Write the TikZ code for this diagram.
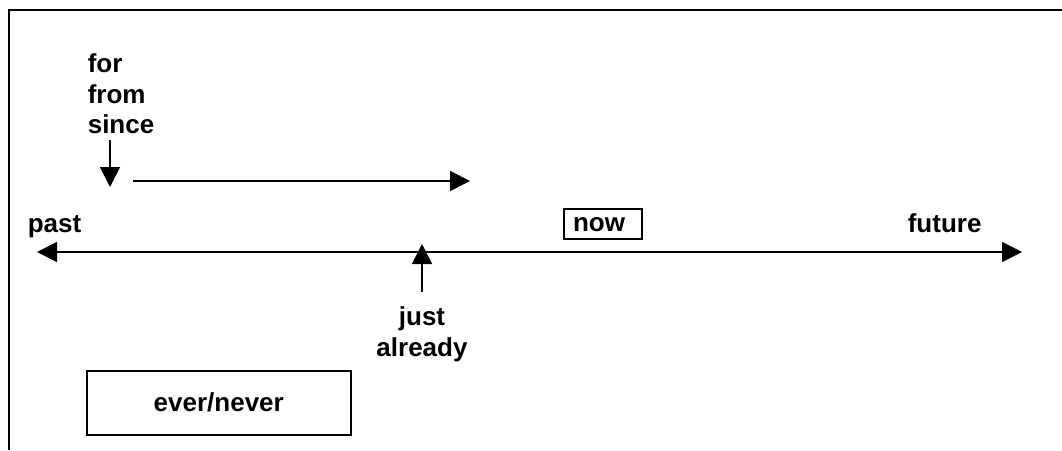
\documentclass[tikz,border=0pt]{standalone}
\usepackage{fontspec}
\setmainfont{Liberation Sans}
\usetikzlibrary{arrows.meta,positioning}

\begin{document}
\begin{tikzpicture}[x=1pt,y=-1pt,line width=1.6pt,
  every node/.style={font=\bfseries\fontsize{26}{30.5}\selectfont,inner sep=0pt},
  tip/.style={-{Triangle[length=20pt,width=20pt]}},
  box/.style={draw,line width=1.5pt}]
  \useasboundingbox (0,0) rectangle (1062,450);
  \draw [line width=2pt] (9,450) -- (9,10) -- (1062,10);

  % time line
  \coordinate (pastend) at (37,252); \coordinate (futureend) at (1022,252);
  \draw [{Triangle[length=20pt,width=20pt]}-{Triangle[length=20pt,width=20pt]}]
    (pastend) -- (futureend);
  \node [anchor=base west] (past) at (27,232) {past};
  \node [anchor=base west] (future) at (907,232) {future};
  \node [box, line width=2pt, anchor=north west, inner xsep=9pt,
    inner ysep=2.5pt, text height=20pt, text depth=5pt]
    (now) at (563,208) {\makebox[60pt][l]{now}};

  % for / from / since
  \node [anchor=north west, align=left] (for) at (87,53) {for\\from\\since};
  \coordinate (fortop) at (110,140); \coordinate (fortip) at (110,187);
  \coordinate (spanstart) at (133,181); \coordinate (spanend) at (470,181);
  \path [tip] (fortop) edge (fortip) (spanstart) edge (spanend);

  % just / already
  \coordinate (justbot) at (422,292); \coordinate (justtip) at (422,244);
  \draw [tip] (justbot) -- (justtip);
  \node [below= 14pt of justbot, align=center] (just) {just\\already};

  \node [box, anchor=north west, minimum width=264pt, minimum height=64pt]
    (ever) at (86,370) {ever/never};
\end{tikzpicture}
\end{document}
